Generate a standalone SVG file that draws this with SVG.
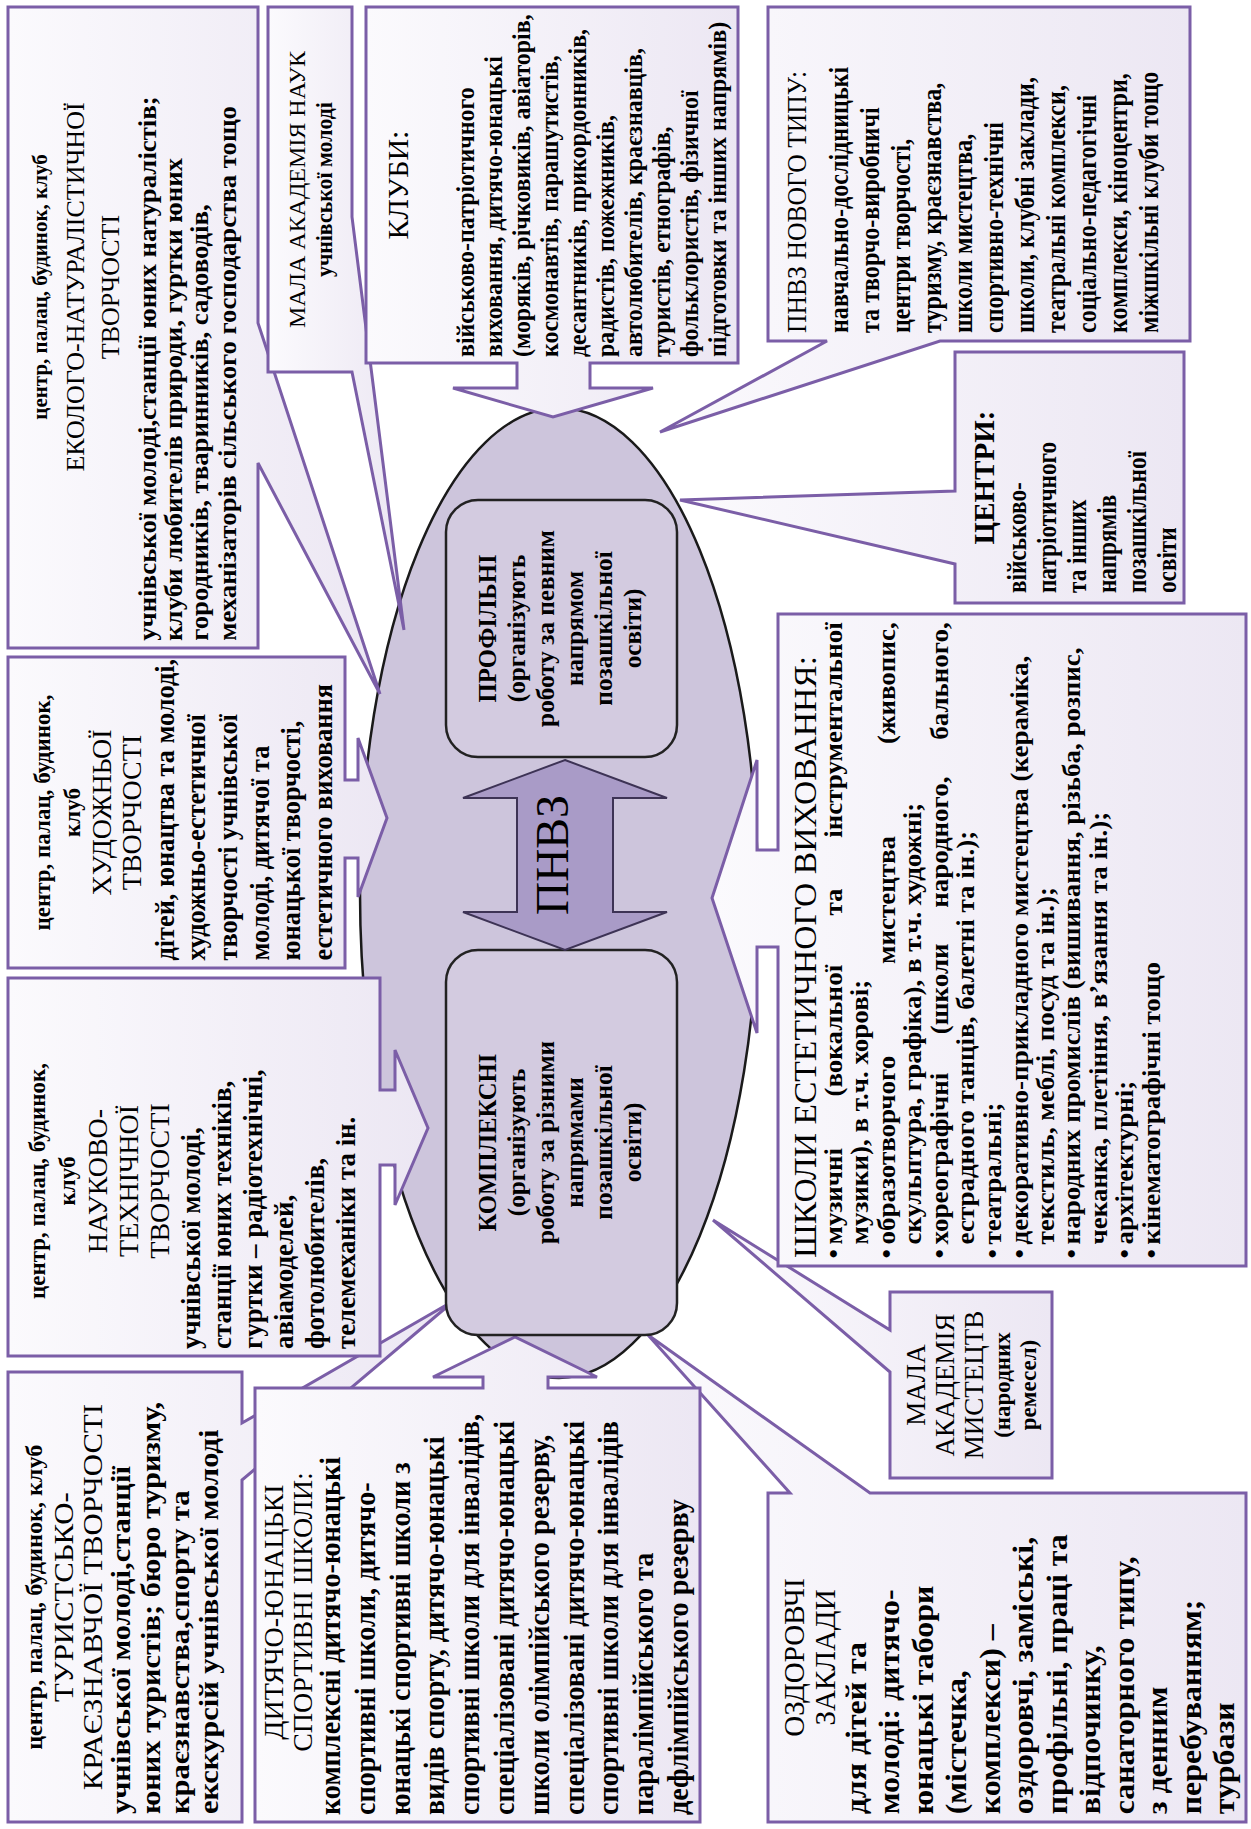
<svg xmlns="http://www.w3.org/2000/svg" width="1251" height="1829" viewBox="0 0 1251 1829">
<style>
.box{fill:url(#bg);stroke:#7b5ea7;stroke-width:3;stroke-linejoin:miter}
text{font-family:"Liberation Serif","Times New Roman",serif;fill:#000}
.b{font-weight:bold}
.c{text-anchor:middle}
.e{text-anchor:end}
</style>
<defs>
<linearGradient id="bg" x1="0" y1="0" x2="1" y2="0">
<stop offset="0" stop-color="#fbfafd"/>
<stop offset="1" stop-color="#ece7f3"/>
</linearGradient>
</defs>
<rect width="1251" height="1829" fill="#fff"/>
<g id="oval"><ellipse cx="559" cy="893" rx="199" ry="485" fill="#cdc5dc" stroke="#1a1a1a" stroke-width="2.5"/></g>

<g id="turyst">
<path class="box" d="M8,1372 H242 V1423 L455,1300 L242,1480 V1822 H8 Z"/>
<g transform="translate(8,1822) rotate(-90)">
<g transform="scale(1.05,1)"><text class="b c" x="214" y="34" font-size="23">центр, палац, будинок, клуб</text></g>
<g transform="scale(1.1,1)" font-size="28"><text class="c" x="204.5" y="65">ТУРИСТСЬКО-</text><text class="c" x="204.5" y="94">КРАЄЗНАВЧОЇ ТВОРЧОСТІ</text></g>
<g transform="scale(1.13,1)" class="b" font-size="27">
<text x="7" y="122">учнівської молоді,станції</text>
<text x="7" y="152">юних туристів; бюро туризму,</text>
<text x="7" y="181">краєзнавства,спорту та</text>
<text x="7" y="210">екскурсій учнівської молоді</text>
</g></g></g>

<g id="ozdorov">
<path class="box" d="M768,1493 H790 L648,1335 L870,1493 H1246 V1822 H768 Z"/>
<g transform="translate(768,1822) rotate(-90)">
<g font-size="29"><text class="c" x="164.5" y="36">ОЗДОРОВЧІ</text><text class="c" x="164.5" y="67">ЗАКЛАДИ</text></g>
<g transform="scale(1.1,1)" class="b" font-size="29">
<text x="7" y="98">для дітей та</text>
<text x="7" y="131.5">молоді: дитячо-</text>
<text x="7" y="165">юнацькі табори</text>
<text x="7" y="198.5">(містечка,</text>
<text x="7" y="232">комплекси) –</text>
<text x="7" y="265.5">оздоровчі, заміські,</text>
<text x="7" y="299">профільні, праці та</text>
<text x="7" y="332.5">відпочинку,</text>
<text x="7" y="366">санаторного типу,</text>
<text x="7" y="399.5">з денним</text>
<text x="7" y="433">перебуванням;</text>
<text x="7" y="466.5">турбази</text>
</g></g></g>

<g id="mala-mystetstv">
<path class="box" d="M890,1292 H1052 V1478 H890 V1372 L713,1220 L890,1330 Z"/>
<g transform="translate(890,1478) rotate(-90)">
<g font-size="27"><text class="c" x="93" y="35">МАЛА</text><text class="c" x="93" y="64">АКАДЕМІЯ</text><text class="c" x="93" y="93">МИСТЕЦТВ</text></g>
<g class="b" font-size="23"><text class="c" x="93" y="120">(народних</text><text class="c" x="93" y="146">ремесел)</text></g>
</g></g>

<g id="ekologo">
<path class="box" d="M8,7 H258 V323 L380,694 L258,463 V648 H8 Z"/>
<g transform="translate(8,648) rotate(-90)">
<text class="b c" x="361" y="39" font-size="21">центр, палац, будинок, клуб</text>
<text class="c" x="361" y="76" font-size="26">ЕКОЛОГО-НАТУРАЛІСТИЧНОЇ</text>
<text class="c" x="361" y="111" font-size="26">ТВОРЧОСТІ</text>
<g transform="scale(1.03,1)" class="b" font-size="26">
<text x="7" y="148">учнівської молоді,станції юних натуралістів;</text>
<text x="7" y="174">клуби любителів природи, гуртки юних</text>
<text x="7" y="200">городників, тваринників, садоводів,</text>
<text x="7" y="228">механізаторів сільського господарства тощо</text>
</g></g></g>

<g id="man">
<path class="box" d="M268,7 H352 V217 L404,630 L352,372 H268 Z"/>
<g transform="translate(268,372) rotate(-90)">
<text class="c" x="182.5" y="37" font-size="24">МАЛА АКАДЕМІЯ НАУК</text>
<g transform="scale(0.95,1)"><text class="b c" x="192" y="64" font-size="23">учнівської молоді</text></g>
</g></g>

<g id="kluby">
<path class="box" d="M366,7 H738 V363 H590 V388 H653 L553,417 L453,388 H517 V363 H366 Z"/>
<g transform="translate(366,363) rotate(-90)">
<text class="c" x="178" y="42" font-size="30">КЛУБИ:</text>
<g transform="scale(0.92,1)" class="b" font-size="26">
<text x="6.5" y="108">військово-патріотичного</text>
<text x="6.5" y="136">виховання, дитячо-юнацькі</text>
<text x="6.5" y="164">(моряків, річковиків, авіаторів,</text>
<text x="6.5" y="192">космонавтів, парашутистів,</text>
<text x="6.5" y="220">десантників, прикордонників,</text>
<text x="6.5" y="248">радистів, пожежників,</text>
<text x="6.5" y="276">автолюбителів, краєзнавців,</text>
<text x="6.5" y="304">туристів, етнографів,</text>
<text x="6.5" y="332">фольклористів, фізичної</text>
<text x="6.5" y="360">підготовки та інших напрямів)</text>
</g></g></g>

<g id="pnvz-novoho">
<path class="box" d="M768,7 H1190 V341 H940 L660,432 L827,341 H768 Z"/>
<g transform="translate(768,341) rotate(-90)">
<g transform="scale(0.95,1)"><text x="8.4" y="38" font-size="27">ПНВЗ НОВОГО ТИПУ:</text></g>
<g transform="scale(0.86,1)" class="b" font-size="28">
<text x="9.3" y="80">навчально-дослідницькі</text>
<text x="9.3" y="111">та творчо-виробничі</text>
<text x="9.3" y="142">центри творчості,</text>
<text x="9.3" y="173">туризму, краєзнавства,</text>
<text x="9.3" y="204">школи мистецтва,</text>
<text x="9.3" y="235">спортивно-технічні</text>
<text x="9.3" y="266">школи, клубні заклади,</text>
<text x="9.3" y="297">театральні комплекси,</text>
<text x="9.3" y="328">соціально-педагогічні</text>
<text x="9.3" y="359">комплекси, кіноцентри,</text>
<text x="9.3" y="390">міжшкільні клуби тощо</text>
</g></g></g>

<g id="tsentry">
<path class="box" d="M955,352 H1184 V603 H955 V564 L680,500 L955,491 Z"/>
<g transform="translate(955,603) rotate(-90)">
<text class="b c" x="125.5" y="39" font-size="29">ЦЕНТРИ:</text>
<g transform="scale(0.86,1)" class="b" font-size="27">
<text x="11.6" y="71">військово-</text>
<text x="11.6" y="101">патріотичного</text>
<text x="11.6" y="131">та інших</text>
<text x="11.6" y="161">напрямів</text>
<text x="11.6" y="191">позашкільної</text>
<text x="11.6" y="221">освіти</text>
</g></g></g>

<g id="shkoly">
<path class="box" d="M778,614 H1246 V1266 H778 V947 H757 V1033 L712,898 L757,760 V850 H778 Z"/>
<g transform="translate(778,1266) rotate(-90)">
<g transform="scale(1.05,1)"><text x="7.6" y="38" font-size="32">ШКОЛИ ЕСТЕТИЧНОГО ВИХОВАННЯ:</text></g>
<g transform="scale(1.08,1)" class="b" font-size="25">
<text x="7" y="64">•</text><text x="20" y="64">музичні</text><text class="c" x="217.9" y="64">(вокальної</text><text class="c" x="337.1" y="64">та</text><text class="e" x="596" y="64">інструментальної</text>
<text x="20" y="90.5">музики), в т.ч. хорові;</text>
<text x="7" y="117">•</text><text x="20" y="117">образотворчого</text><text class="c" x="338.9" y="117">мистецтва</text><text class="e" x="596" y="117">(живопис,</text>
<text x="20" y="143.5">скульптура, графіка), в т.ч. художні;</text>
<text x="7" y="170">•</text><text x="20" y="170">хореографічні</text><text class="c" x="256.7" y="170">(школи</text><text class="c" x="392.4" y="170">народного,</text><text class="e" x="596" y="170">бального,</text>
<text x="20" y="196.5">естрадного танців, балетні та ін.);</text>
<text x="7" y="223">•</text><text x="20" y="223">театральні;</text>
<text x="7" y="249.5">•</text><text x="20" y="249.5">декоративно-прикладного мистецтва (кераміка,</text>
<text x="20" y="276">текстиль, меблі, посуд та ін.);</text>
<text x="7" y="302.5">•</text><text x="20" y="302.5">народних промислів (вишивання, різьба, розпис,</text>
<text x="20" y="329">чеканка, плетіння, в’язання та ін.);</text>
<text x="7" y="355.5">•</text><text x="20" y="355.5">архітектурні;</text>
<text x="7" y="382">•</text><text x="20" y="382">кінематографічні тощо</text>
</g></g></g>

<g id="khudozh">
<path class="box" d="M8,657 H345 V780 H358 V738 L387,818 L358,897 V858 H345 V968 H8 Z"/>
<g transform="translate(8,968) rotate(-90)">
<g class="b" font-size="23"><text class="c" x="155.5" y="42">центр, палац, будинок,</text><text class="c" x="155.5" y="72">клуб</text></g>
<g font-size="28"><text class="c" x="155.5" y="103">ХУДОЖНЬОЇ</text><text class="c" x="155.5" y="133">ТВОРЧОСТІ</text></g>
<g transform="scale(0.94,1)" class="b" font-size="28">
<text x="8" y="166">дітей, юнацтва та молоді,</text>
<text x="8" y="197">художньо-естетичної</text>
<text x="8" y="229">творчості учнівської</text>
<text x="8" y="261">молоді, дитячої та</text>
<text x="8" y="292">юнацької творчості,</text>
<text x="8" y="324">естетичного виховання</text>
</g></g></g>

<g id="naukovo">
<path class="box" d="M8,978 H380 V1090 H395 V1050 L428,1128 L395,1205 V1165 H380 V1356 H8 Z"/>
<g transform="translate(8,1356) rotate(-90)">
<g class="b" font-size="23"><text class="c" x="175" y="37">центр, палац, будинок,</text><text class="c" x="175" y="67">клуб</text></g>
<g font-size="28"><text class="c" x="175" y="99">НАУКОВО-</text><text class="c" x="175" y="130">ТЕХНІЧНОЇ</text><text class="c" x="175" y="161">ТВОРЧОСТІ</text></g>
<g transform="scale(0.96,1)" class="b" font-size="28">
<text x="7.3" y="192">учнівської молоді,</text>
<text x="7.3" y="223">станції юних техніків,</text>
<text x="7.3" y="254">гуртки – радіотехнічні,</text>
<text x="7.3" y="285">авіамоделей,</text>
<text x="7.3" y="316">фотолюбителів,</text>
<text x="7.3" y="347">телемеханіки та ін.</text>
</g></g></g>

<g id="dyussh">
<path class="box" d="M255,1388 H483 V1377 H433 L515,1337 L597,1377 H548 V1388 H700 V1822 H255 Z"/>
<g transform="translate(255,1822) rotate(-90)">
<g font-size="28"><text class="c" x="210" y="28">ДИТЯЧО-ЮНАЦЬКІ</text><text class="c" x="210" y="57">СПОРТИВНІ ШКОЛИ:</text></g>
<g transform="scale(0.94,1)" class="b" font-size="30">
<text x="7.4" y="85">комплексні дитячо-юнацькі</text>
<text x="7.4" y="119.8">спортивні школи, дитячо-</text>
<text x="7.4" y="154.6">юнацькі спортивні школи з</text>
<text x="7.4" y="189.4">видів спорту, дитячо-юнацькі</text>
<text x="7.4" y="224.2">спортивні школи для інвалідів,</text>
<text x="7.4" y="259">спеціалізовані дитячо-юнацькі</text>
<text x="7.4" y="293.8">школи олімпійського резерву,</text>
<text x="7.4" y="328.6">спеціалізовані дитячо-юнацькі</text>
<text x="7.4" y="363.4">спортивні школи для інвалідів</text>
<text x="7.4" y="398.2">паралімпійського та</text>
<text x="7.4" y="433">дефлімпійського резерву</text>
</g></g></g>

<g id="profilni">
<rect x="446" y="500" width="231" height="257" rx="32" fill="#d3cbe0" stroke="#222" stroke-width="2.5"/>
<g transform="translate(446,757) rotate(-90)">
<g transform="scale(0.95,1)"><text class="b c" x="135.3" y="50.5" font-size="26">ПРОФІЛЬНІ</text></g>
<g transform="scale(0.97,1)" class="b" font-size="26">
<text class="c" x="132.5" y="79.5">(організують</text>
<text class="c" x="132.5" y="108.5">роботу за певним</text>
<text class="c" x="132.5" y="137.5">напрямом</text>
<text class="c" x="132.5" y="166.5">позашкільної</text>
<text class="c" x="132.5" y="195.5">освіти)</text>
</g></g></g>

<g id="kompleksni">
<rect x="446" y="950" width="231" height="385" rx="32" fill="#d3cbe0" stroke="#222" stroke-width="2.5"/>
<g transform="translate(446,1335) rotate(-90)">
<g transform="scale(0.95,1)"><text class="b c" x="202.6" y="50.5" font-size="26">КОМПЛЕКСНІ</text></g>
<g transform="scale(0.97,1)" class="b" font-size="26">
<text class="c" x="198.5" y="79.5">(організують</text>
<text class="c" x="198.5" y="108.5">роботу за різними</text>
<text class="c" x="198.5" y="137.5">напрямами</text>
<text class="c" x="198.5" y="166.5">позашкільної</text>
<text class="c" x="198.5" y="195.5">освіти)</text>
</g></g></g>

<g id="connectors">
<polygon points="565,760 667,798 613,798 613,912 667,912 565,950 463,912 517,912 517,798 463,798" fill="#a99bc7" stroke="#3d3355" stroke-width="2"/>
<text class="c" transform="translate(568,855) rotate(-90)" x="0" y="0" font-size="46">ПНВЗ</text>
</g>
</svg>
